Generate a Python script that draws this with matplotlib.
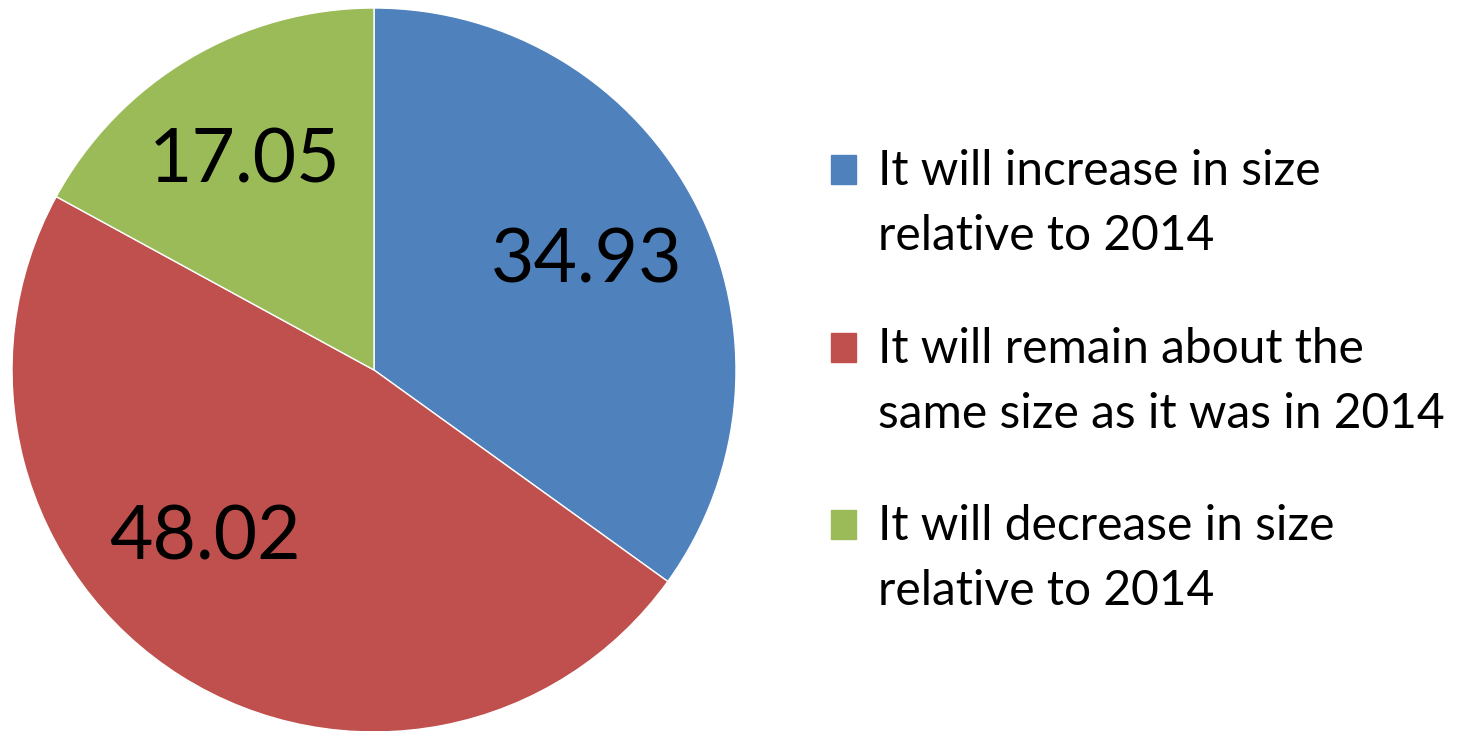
import matplotlib.pyplot as plt
from matplotlib.patches import Rectangle
import numpy as np

# survey shares (percent)
values = [34.93, 48.02, 17.05]
labels = ['It will increase in size\nrelative to 2014',
          'It will remain about the\nsame size as it was in 2014',
          'It will decrease in size\nrelative to 2014']
colors = ['#4F81BD', '#C0504D', '#9BBB59']

# label placement tweaks: angle shift (deg) and radius
label_shift = [0, -13, 1]
label_radius = [0.66, 0.66, 0.68]

W, H = 1466, 731
fig = plt.figure(figsize=(W / 100, H / 100), dpi=100)
plt.rcParams['font.family'] = ['Lato', 'DejaVu Sans']

cx, cy, R = 374, 370, 362
ax = fig.add_axes([(cx - R) / W, (H - cy - R) / H, 2 * R / W, 2 * R / H])
wedges, _ = ax.pie(values, colors=colors, startangle=90, counterclock=False,
                   radius=1, wedgeprops={'edgecolor': 'white', 'linewidth': 1})
ax.set_xlim(-1, 1)
ax.set_ylim(-1, 1)
ax.axis('off')

for w, v, shift, r in zip(wedges, values, label_shift, label_radius):
    mid = np.deg2rad((w.theta1 + w.theta2) / 2 + shift)
    ax.text(r * np.cos(mid), r * np.sin(mid), f'{v:.2f}', fontsize=54,
            ha='center', va='center', color='black')

# legend drawn by hand
entry_top = [155, 333, 510]
for top, lab, c in zip(entry_top, labels, colors):
    fig.patches.append(Rectangle((831 / W, (H - top - 29) / H), 25 / W, 29 / H,
                                 transform=fig.transFigure, color=c))
    first, second = lab.split('\n')
    fig.text(878 / W, (H - top - 30) / H, first, fontsize=34.5, va='baseline')
    fig.text(878 / W, (H - top - 95) / H, second, fontsize=34.5, va='baseline')

fig.savefig('out.png', dpi=100)
